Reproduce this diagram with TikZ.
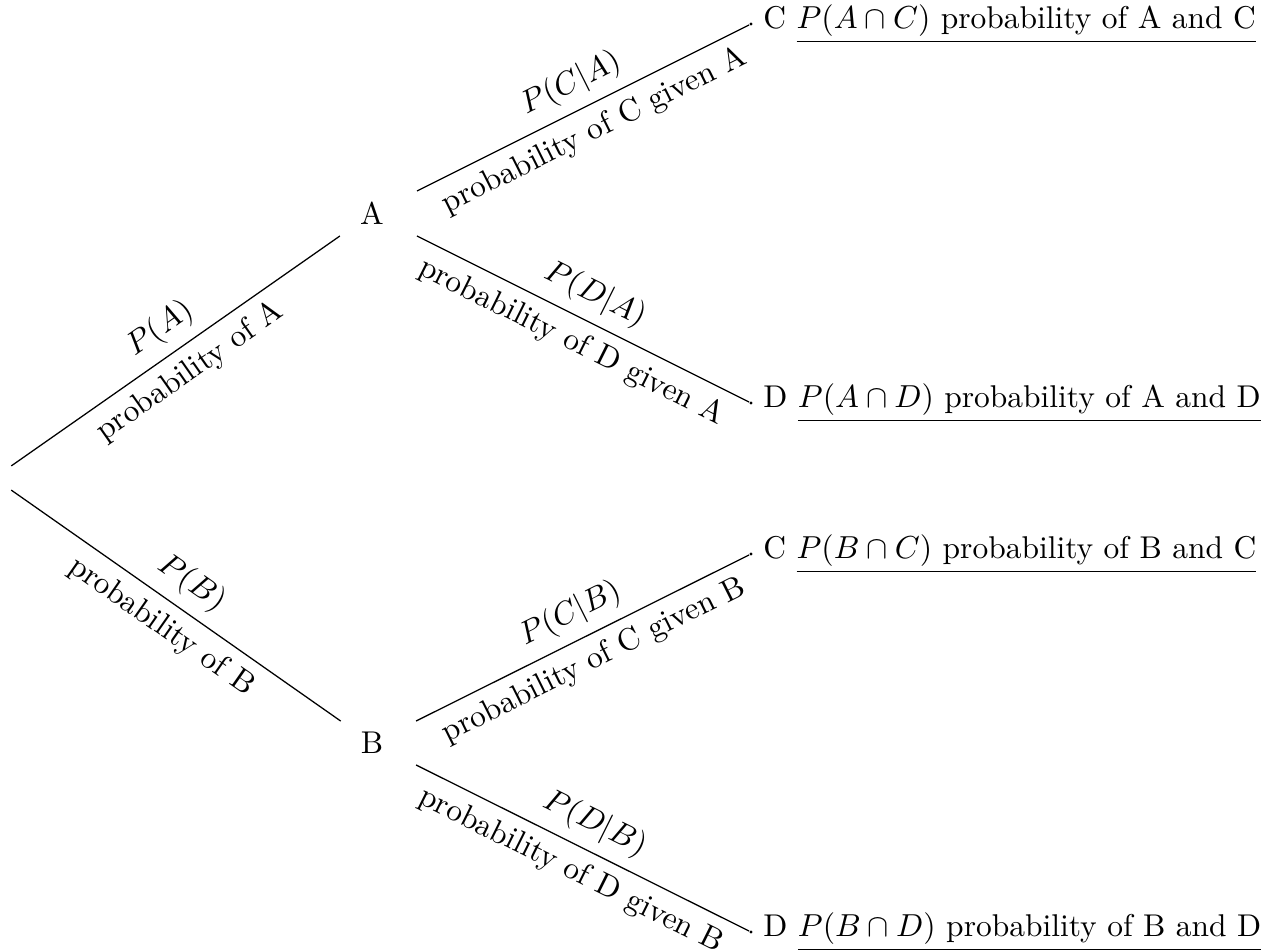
\documentclass[tikz,border=0pt]{standalone}
\usetikzlibrary{positioning}
\begin{document}
\begin{tikzpicture}[x=0.3145pt,y=-0.3145pt,
  every node/.style={font=\fontsize{9.9pt}{12pt}\selectfont},
  bag/.style={text width=4em, align=center, minimum height=7.2pt},
  leaf/.style={circle, fill, inner sep=0pt, minimum size=1pt},
  result/.style={inner sep=0.3em},
  branch/.style={sloped}]
\useasboundingbox (0,0) rectangle (1271,952);
\node[bag] (r) at (-6,478) {};
\node[bag] (a) at (372,213.5) {A};
\node[bag] (b) at (372,743) {B};
\node[leaf] (ac) at (751,24) {};
\node[leaf] (ad) at (751,403) {};
\node[leaf] (bc) at (751,554) {};
\node[leaf] (bd) at (751,932) {};
\node[result, right=0pt of ac] (acl) {C \underline{$P(A\cap C)$ probability of A and C}};
\node[result, right=0pt of ad] (adl) {D \underline{$P(A\cap D)$ probability of A and D}};
\node[result, right=0pt of bc] (bcl) {C \underline{$P(B\cap C)$ probability of B and C}};
\node[result, right=0pt of bd] (bdl) {D \underline{$P(B\cap D)$ probability of B and D}};
\draw[branch] (r) -- node[above]{$P(A)$} node[below]{probability of A} (a);
\draw[branch] (r) -- node[above]{$P(B)$} node[below]{probability of B} (b);
\draw[branch] (a) -- node[above]{$P(C|A)$} node[below]{probability of C given A} (ac);
\draw[branch] (a) -- node[above]{$P(D|A)$} node[below]{probability of D given A} (ad);
\draw[branch] (b) -- node[above]{$P(C|B)$} node[below]{probability of C given B} (bc);
\draw[branch] (b) -- node[above]{$P(D|B)$} node[below]{probability of D given B} (bd);
\end{tikzpicture}
\end{document}
